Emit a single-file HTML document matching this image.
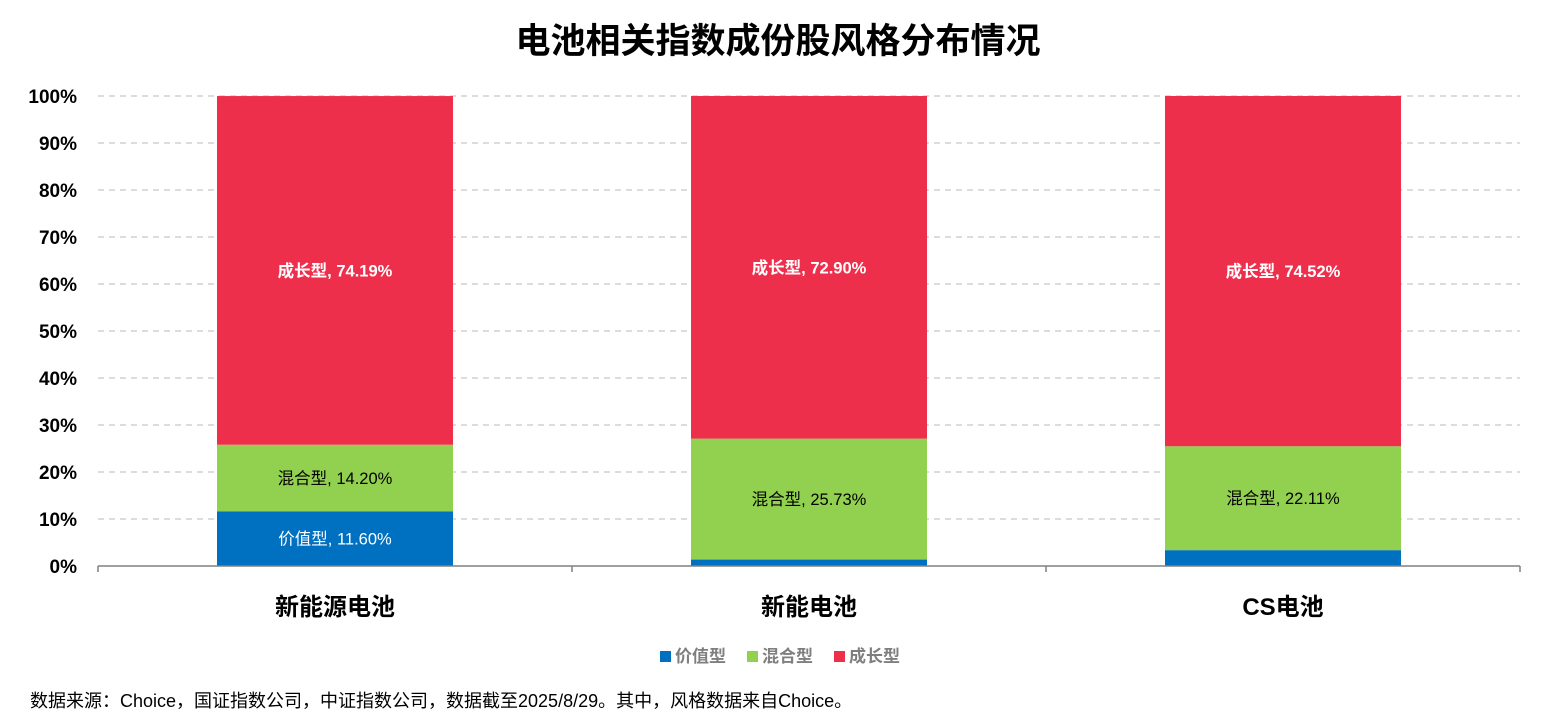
<!DOCTYPE html>
<html><head><meta charset="utf-8">
<style>
html,body{margin:0;padding:0;background:#fff;width:1556px;height:726px;overflow:hidden}
svg{display:block}
text{font-family:"Liberation Sans","Noto Sans CJK SC",sans-serif}
</style></head>
<body>
<svg id="chart" width="1556" height="726" viewBox="0 0 1556 726">
<text x="778" y="53" text-anchor="middle" font-size="35" font-weight="bold" fill="#000">电池相关指数成份股风格分布情况</text>
<g id="grid"></g><g id="bars"></g><g id="axes"></g>
<g font-size="17" font-weight="bold" fill="#7f7f7f">
<g><rect x="660" y="651" width="11" height="11" fill="#0070c0"/><text x="675" y="662" fill="#7f7f7f">价值型</text></g>
<g><rect x="747" y="651" width="11" height="11" fill="#92d050"/><text x="762" y="662" fill="#7f7f7f">混合型</text></g>
<g><rect x="834" y="651" width="11" height="11" fill="#ee2f4c"/><text x="849" y="662" fill="#7f7f7f">成长型</text></g>
</g>
<text x="30" y="707" font-size="18" fill="#000">数据来源：Choice，国证指数公司，中证指数公司，数据截至2025/8/29。其中，风格数据来自Choice。</text>
</svg>
<script>
const categories=["新能源电池","新能电池","CS电池"];
const valueSeries=[11.60,1.37,3.37];
const mixedSeries=[14.20,25.73,22.11];
const growthSeries=[74.19,72.90,74.52];
const yTicks=[0,10,20,30,40,50,60,70,80,90,100];
const NS="http://www.w3.org/2000/svg";
const L=98,R=1520,T=96,B=566;
const y=v=>B-(v/100)*(B-T);
const bandW=(R-L)/categories.length;
const xc=i=>L+bandW*(i+0.5);
const barW=236;
function mk(tag,attrs,parent){const e=document.createElementNS(NS,tag);for(const k in attrs)e.setAttribute(k,attrs[k]);parent.appendChild(e);return e;}
const grid=document.getElementById('grid'),bars=document.getElementById('bars'),axes=document.getElementById('axes');
yTicks.forEach(t=>{
 if(t>0){const l=mk('line',{x1:L,x2:R,y1:y(t),y2:y(t),stroke:'#d0d0d0','stroke-width':1.5,'stroke-dasharray':'6,5'},grid);
 
 }
 const tx=mk('text',{x:77,y:y(t)+7,'text-anchor':'end','font-size':19,'font-weight':'bold',fill:'#000'},axes);
 tx.textContent=t+'%';
 
 
});
const series=[
 {name:'value',label:'价值型',data:valueSeries,color:'#0070c0',txt:'#fff',show:[true,false,false]},
 {name:'mixed',label:'混合型',data:mixedSeries,color:'#92d050',txt:'#000',show:[true,true,true]},
 {name:'growth',label:'成长型',data:growthSeries,color:'#ee2f4c',txt:'#fff',show:[true,true,true]}
];
categories.forEach((c,i)=>{
 let base=0;
 series.forEach(s=>{
  const v=s.data[i];
  const r=mk('rect',{x:xc(i)-barW/2,y:y(base+v),width:barW,height:y(base)-y(base+v),fill:s.color},bars);
  
  
  if(s.show[i]){
   const t=mk('text',{x:xc(i),y:(y(base)+y(base+v))/2+6,'text-anchor':'middle','font-size':16.5,fill:s.txt,'font-weight':s.name==='growth'?'bold':'normal'},bars);
   t.textContent=s.label+', '+v.toFixed(2)+'%';
   
   
  }
  base+=v;
 });
 const ct=mk('text',{x:xc(i),y:615,'text-anchor':'middle','font-size':24,'font-weight':'bold',fill:'#000'},axes);
 ct.textContent=c;
 
 
});
const ax=mk('line',{x1:L,x2:R,y1:B,y2:B,stroke:'#808080','stroke-width':1.5},axes);


for(let i=0;i<=categories.length;i++){
 const tk=mk('line',{x1:L+bandW*i,x2:L+bandW*i,y1:B,y2:B+6,stroke:'#808080','stroke-width':1.5},axes);
 
 
}
</script>
</body></html>
